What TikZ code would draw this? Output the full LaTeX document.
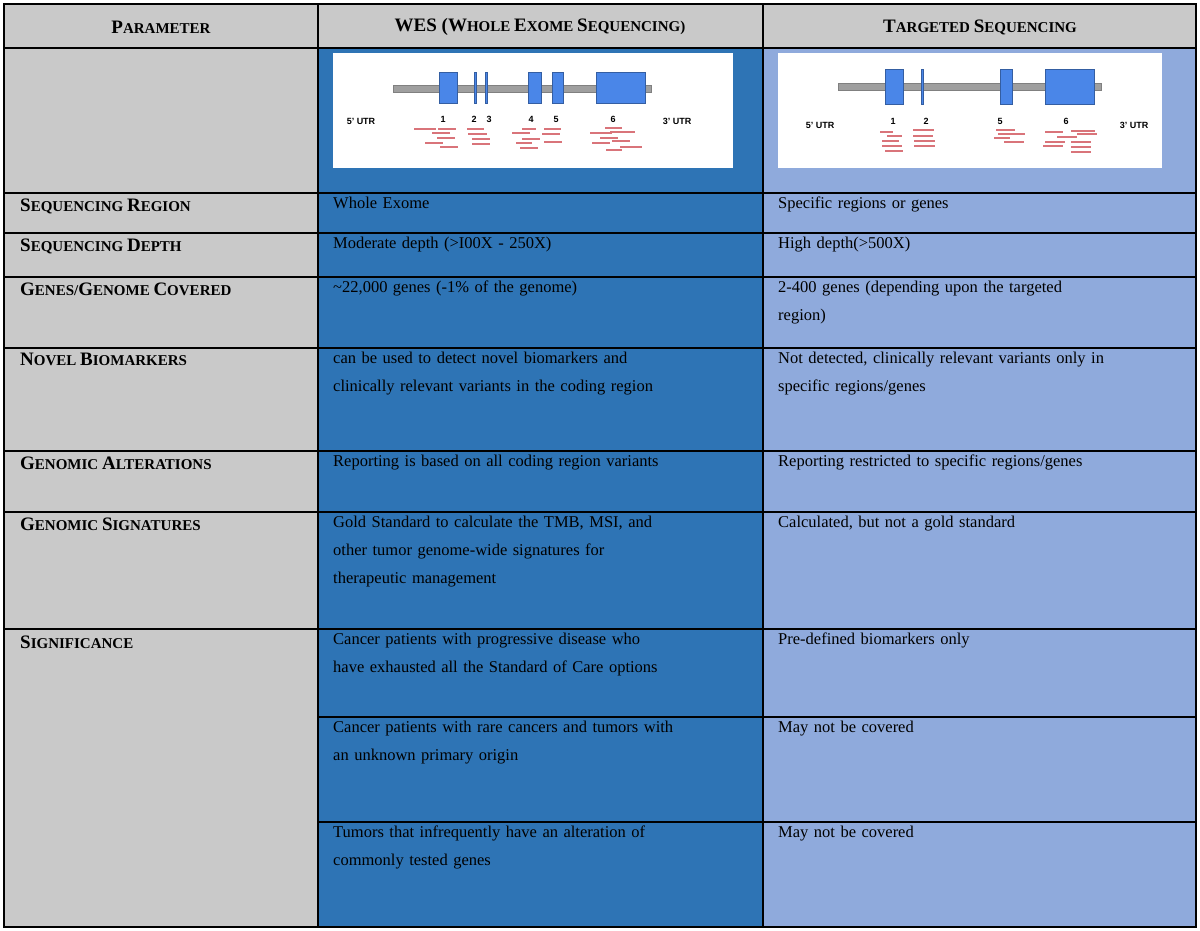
\documentclass[tikz,border=0pt]{standalone}
\usepackage{fontspec}
\setmainfont{Liberation Serif}
\setsansfont{Liberation Sans}
\begin{document}
\begin{tikzpicture}[x=1pt,y=-1pt,
  cell/.style={anchor=north west,inner sep=0pt,align=left,font=\fontsize{16.5}{28}\selectfont,text width=420pt},
  hd/.style={anchor=north west,inner sep=0pt,font=\bfseries\fontsize{15}{20}\selectfont},
  hc/.style={anchor=center,inner sep=0pt,font=\bfseries\fontsize{15}{20}\selectfont},
  exon/.style={fill=exblue,draw=exblue!70!black,line width=0.5pt},
  rd/.style={draw=readred,line width=1.2pt},
  gl/.style={font=\sffamily\bfseries\fontsize{9}{10}\selectfont,inner sep=0pt}]
\definecolor{gbg}{HTML}{C9C9C9}
\definecolor{wesb}{HTML}{2E74B5}
\definecolor{tgb}{HTML}{8FAADC}
\definecolor{exblue}{HTML}{4A86E8}
\definecolor{readred}{HTML}{D9747A}
\useasboundingbox (0,0) rectangle (1200,930);
\fill[white] (0,0) rectangle (1200,930);
\newcommand\K[2]{{\fontsize{19}{20}\selectfont #1}#2}
% backgrounds
\fill[gbg] (4,4) rectangle (1196,48);
\fill[gbg] (4,48) rectangle (318,927);
\fill[wesb] (318,48) rectangle (763,927);
\fill[tgb] (763,48) rectangle (1196,927);
% grid
\draw[line width=1.4pt] (4,4) rectangle (1196,927);
\foreach \y in {48,193,233,277,348,451,512,629} \draw[line width=1.2pt] (4,\y) -- (1196,\y);
\foreach \y in {717,822} \draw[line width=1.2pt] (318,\y) -- (1196,\y);
\draw[line width=1.2pt] (318,4) -- (318,927);
\draw[line width=1.2pt] (763,4) -- (763,927);
% header
\node[hc] (h1) at (161,27) {\K{P}{ARAMETER}};
\node[hc] (h2) at (540,27) {\K{WES (W}{HOLE} \K{E}{XOME} \K{S}{EQUENCING})};
\node[hc] (h3) at (980,27) {\K{T}{ARGETED} \K{S}{EQUENCING}};
% left labels
\node[hd] (l1) at (20,199) {\K{S}{EQUENCING} \K{R}{EGION}};
\node[hd] (l2) at (20,239) {\K{S}{EQUENCING} \K{D}{EPTH}};
\node[hd] (l3) at (20,283) {\K{G}{ENES}/\K{G}{ENOME} \K{C}{OVERED}};
\node[hd] (l4) at (20,353) {\K{N}{OVEL} \K{B}{IOMARKERS}};
\node[hd] (l5) at (20,457) {\K{G}{ENOMIC} \K{A}{LTERATIONS}};
\node[hd] (l6) at (20,518) {\K{G}{ENOMIC} \K{S}{IGNATURES}};
\node[hd] (l7) at (20,636) {\K{S}{IGNIFICANCE}};
% WES column
\node[cell] (w1) at (333,197) {Whole Exome};
\node[cell] (w2) at (333,237) {Moderate depth (>I00X - 250X)};
\node[cell] (w3) at (333,281) {\textasciitilde 22,000 genes (-1\% of the genome)};
\node[cell] (w4) at (333,352) {can be used to detect novel biomarkers and\\clinically relevant variants in the coding region};
\node[cell] (w5) at (333,455) {Reporting is based on all coding region variants};
\node[cell] (w6) at (333,516) {Gold Standard to calculate the TMB, MSI, and\\other tumor genome-wide signatures for\\therapeutic management};
\node[cell] (w7) at (333,633) {Cancer patients with progressive disease who\\have exhausted all the Standard of Care options};
\node[cell] (w8) at (333,721) {Cancer patients with rare cancers and tumors with\\an unknown primary origin};
\node[cell] (w9) at (333,826) {Tumors that infrequently have an alteration of\\commonly tested genes};
% Targeted column
\node[cell] (t1) at (778,197) {Specific regions or genes};
\node[cell] (t2) at (778,237) {High depth(>500X)};
\node[cell] (t3) at (778,281) {2-400 genes (depending upon the targeted\\region)};
\node[cell] (t4) at (778,352) {Not detected, clinically relevant variants only in\\specific regions/genes};
\node[cell] (t5) at (778,455) {Reporting restricted to specific regions/genes};
\node[cell] (t6) at (778,516) {Calculated, but not a gold standard};
\node[cell] (t7) at (778,633) {Pre-defined biomarkers only};
\node[cell] (t8) at (778,721) {May not be covered};
\node[cell] (t9) at (778,826) {May not be covered};
% WES gene image
\fill[white] (333,53) rectangle (733,168);
\fill[gray!75,draw=gray] (393,85) rectangle (651,92);
\foreach \a/\b in {439/457,474/476,485/487,528/541,552/563,596/645} \draw[exon] (\a,72) rectangle (\b,103);
\node[gl] (wu5) at (361,121) {5' UTR};
\node[gl] (wu3) at (677,121) {3' UTR};
\foreach \x/\t in {443/1,474/2,489/3,531/4,556/5,613/6} \node[gl] at (\x,119) {\t};
\foreach \a/\b/\y in {414/436/129,438/456/129,432/450/133,437/455/138,425/443/143,440/458/147,
  467/484/129,468/487/134,472/490/139,472/490/144,
  512/530/133,522/536/129,522/540/139,516/532/143,520/538/148,
  544/561/129,542/560/134,544/562/142,
  605/622/128,590/612/133,610/635/132,600/618/138,612/630/141,592/610/143,620/642/147,606/622/150}
  \draw[rd] (\a,\y) -- (\b,\y);
% Targeted gene image
\fill[white] (778,53) rectangle (1162,168);
\fill[gray!75,draw=gray] (838,83) rectangle (1101,90);
\foreach \a/\b in {885/903,921/923,1000/1012,1045/1094} \draw[exon] (\a,69) rectangle (\b,104);
\node[gl] (tu5) at (820,125) {5' UTR};
\node[gl] (tu3) at (1134,125) {3' UTR};
\foreach \x/\t in {893/1,926/2,1000/5,1066/6} \node[gl] at (\x,121) {\t};
\foreach \a/\b/\y in {880/892,886/902,882/898,882/902,885/903,
  913/934,913/934,914/935,914/935}
  {}
\foreach \a/\b/\y in {880/893/132,887/902/136,882/899/141,882/902/146,885/903/151,
  913/934/130,913/933/136,914/935/141,914/935/146,
  996/1015/130,998/1025/134,994/1010/138,1004/1024/142,
  1045/1063/132,1071/1095/131,1077/1097/134,1057/1077/137,1045/1065/142,1071/1091/142,1043/1063/146,1071/1091/147,1071/1091/152}
  \draw[rd] (\a,\y) -- (\b,\y);
\end{tikzpicture}
\end{document}
